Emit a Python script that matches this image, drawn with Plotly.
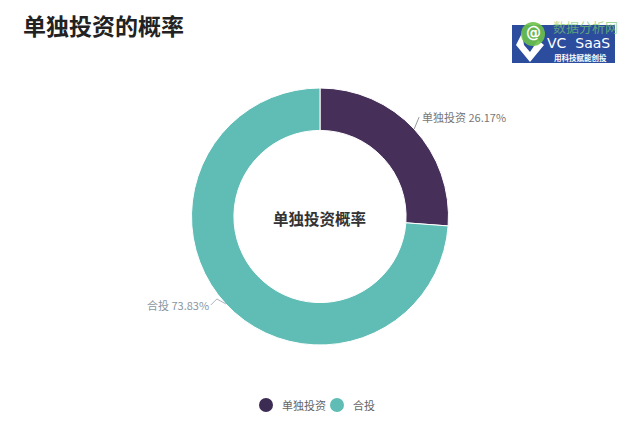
import math
import plotly.graph_objects as go

# ---- data ----
categories = ["单独投资", "合投"]
values = [26.17, 73.83]
colors = ["#46305a", "#5fbdb5"]
legend_colors = ["#3c2b52", "#5fbdb5"]
title_text = "单独投资的概率"
center_text = "单独投资概率"

W, H = 640, 431
CX, CY, R = 320, 216.5, 128.5

def px(x):
    return x / W

def py(y):
    return 1 - y / H

fig = go.Figure()
fig.add_trace(go.Pie(
    labels=categories, values=values, hole=0.67,
    sort=False, direction="clockwise", rotation=0,
    marker=dict(colors=colors, line=dict(color="white", width=1)),
    textinfo="none", hoverinfo="label+percent", showlegend=False,
    domain=dict(x=[px(CX - R), px(CX + R)], y=[py(CY + R), py(CY - R)]),
))

annotations = []
shapes = []

def ann(x, y, text, size, color, family="Noto Sans CJK SC", xanchor="center"):
    annotations.append(dict(x=px(x), y=py(y), xref="paper", yref="paper", text=text,
                            showarrow=False, xanchor=xanchor, yanchor="middle",
                            font=dict(size=size, color=color, family=family)))

# slice labels with leader lines, positioned from data angles
total = sum(values)
cum = 0
for i, (cat, v) in enumerate(zip(categories, values)):
    mid = (cum + v / 2) / total * 2 * math.pi
    cum += v
    ex = CX + R * math.sin(mid)
    ey = CY - R * math.cos(mid)
    pct = v / total * 100
    label = f"{cat} {pct:.2f}%"
    if math.sin(mid) >= 0:
        bx, by = ex + 5, ey - 12
        tx, ty = bx + 1, by
        anchor = "left"
        path = f"M {px(ex)} {py(ey)} L {px(bx)} {py(by)}"
        lc, tc = "#999999", "#777777"
    else:
        bx, by = ex - 9, ey - 5
        tx, ty = bx - 6, ey + 1
        anchor = "right"
        path = f"M {px(ex)} {py(ey)} L {px(bx)} {py(by)} L {px(tx)} {py(ty)}"
        lc, tc = "#aab4bc", "#8a96a0"
    shapes.append(dict(type="path", xref="paper", yref="paper", path=path,
                       line=dict(color=lc, width=1)))
    ann(tx, ty, label, 11, tc, xanchor=anchor)

# centre text
ann(CX - 1, CY + 1, f"<b>{center_text}</b>", 15.5, "#333333")

# title
ann(21, 25, f"<b>{title_text}</b>", 23, "#222222", xanchor="left")

# custom legend with circle markers
lx = 266
for cat, col in zip(categories, legend_colors):
    shapes.append(dict(type="circle", xref="paper", yref="paper",
                       x0=px(lx - 7), x1=px(lx + 7), y0=py(405 + 7), y1=py(405 - 7),
                       fillcolor=col, line=dict(width=0)))
    ann(lx + 14, 405, cat, 11, "#666666", xanchor="left")
    lx += 14 + 11 * len(cat) + 13

# logo approximation (top right)
shapes.append(dict(type="rect", xref="paper", yref="paper",
                   x0=px(512), x1=px(615), y0=py(63), y1=py(25),
                   fillcolor="#2c4d9e", line=dict(width=0), layer="below"))
shapes.append(dict(type="path", xref="paper", yref="paper",
                   path=f"M {px(522)} {py(33)} L {px(516)} {py(45)} L {px(530)} {py(62)} L {px(544)} {py(45)} L {px(538)} {py(40)} L {px(530)} {py(52)} L {px(524)} {py(45)} Z",
                   fillcolor="white", line=dict(width=0)))
shapes.append(dict(type="circle", xref="paper", yref="paper",
                   x0=px(521), x1=px(545), y0=py(46), y1=py(22),
                   fillcolor="#6cc24a", line=dict(width=0), opacity=0.9))
ann(533, 33, "<b>@</b>", 15, "white", family="DejaVu Sans")
ann(585, 27, "数据分析网", 13, "rgba(120,200,110,0.7)")
ann(578, 43, "VC  SaaS", 14, "white", family="DejaVu Sans")
ann(580, 57, "<b>用科技赋能创投</b>", 7.5, "white")

fig.update_layout(
    width=W, height=H, margin=dict(l=0, r=0, t=0, b=0),
    paper_bgcolor="white", plot_bgcolor="white",
    annotations=annotations, shapes=shapes,
    font=dict(family="Noto Sans CJK SC"),
)

fig.write_html("out.html", config={"displayModeBar": False},
               post_script="document.body.style.margin='0';document.body.style.overflow='hidden';")
